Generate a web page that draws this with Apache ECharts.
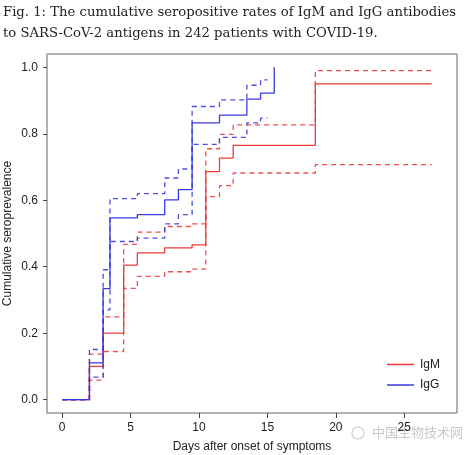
<!DOCTYPE html>
<html>
<head>
<meta charset="utf-8">
<script src="https://cdn.jsdelivr.net/npm/echarts@6/dist/echarts.min.js"></script>
<style>html,body{margin:0;padding:0;background:#fff}#c{width:464px;height:455px}</style>
</head>
<body>
<div id="c"></div>
<script>
// ---- data ----
const titleLines = ["Fig. 1: The cumulative seropositive rates of IgM and IgG antibodies",
                    "to SARS-CoV-2 antigens in 242 patients with COVID-19."];
const xTicks = [0, 5, 10, 15, 20, 25];
const yTicks = [0, 0.2, 0.4, 0.6, 0.8, 1.0];

const igmTime  = [0, 2, 3, 4.5, 5.5, 7.5, 9.5, 10.5, 11.5, 12.5, 18.5, 27];
const igmEst   = [0, 0.100, 0.200, 0.405, 0.442, 0.457, 0.466, 0.686, 0.727, 0.765, 0.950, 0.950];
const igmUpper = [0, 0.137, 0.249, 0.467, 0.504, 0.521, 0.529, 0.755, 0.798, 0.827, 0.990, 0.990];
const igmLower = [0, 0.059, 0.145, 0.335, 0.371, 0.385, 0.393, 0.611, 0.644, 0.682, 0.707, 0.707];

const iggTime   = [0, 2, 3, 3.5, 5.5, 7.5, 8.5, 9.5, 11.5, 13.5, 14.5, 15.5];
const iggEst    = [0, 0.111, 0.334, 0.547, 0.557, 0.601, 0.632, 0.833, 0.856, 0.904, 0.922, 1.0];
const iggCiTime = [0, 2, 3, 3.5, 5.5, 7.5, 8.5, 9.5, 11.5, 13.5, 14.5, 15];
const iggUpper  = [0, 0.151, 0.391, 0.605, 0.620, 0.667, 0.694, 0.882, 0.902, 0.946, 0.962, 0.962];
const iggLower  = [0, 0.068, 0.270, 0.476, 0.486, 0.529, 0.557, 0.768, 0.789, 0.833, 0.847, 0.847];

const watermark = "中国生物技术网";

// ---- chart ----
const RED = '#ee3b3b', BLUE = '#3a3ae0';
const pts = (t, v) => t.map((x, i) => [x, v[i]]);
const mk = (name, t, v, color, dashed) => ({
  name, type: 'line', step: 'end', symbol: 'none', showSymbol: false, silent: true, animation: false,
  data: pts(t, v),
  lineStyle: { color, width: 1.3, type: dashed ? [5, 4] : 'solid', opacity: dashed ? 0.9 : 1 },
  itemStyle: { color }
});

const chart = echarts.init(document.getElementById('c'), null, { renderer: 'canvas' });
chart.setOption({
  animation: false,
  backgroundColor: '#fff',
  title: {
    text: titleLines.join('\n'), left: 3, top: 2, padding: 0,
    textStyle: { fontFamily: 'DejaVu Serif', fontSize: 13.2, fontWeight: 'normal', color: '#222', lineHeight: 21 }
  },
  grid: { left: 47, right: 7, top: 54, bottom: 42, show: true, borderColor: '#666', borderWidth: 1,
          containLabel: false, outerBoundsMode: 'none' },
  legend: {
    data: [{ name: 'IgM', icon: 'rect' }, { name: 'IgG', icon: 'rect' }],
    orient: 'vertical', left: 387, top: 358.5, padding: 0,
    itemWidth: 27, itemHeight: 1.5, itemGap: 8.5,
    textStyle: { fontFamily: 'Liberation Sans', fontSize: 12, color: '#222', padding: [0, 0, 0, 1] }
  },
  xAxis: {
    type: 'value', min: -1.1, max: 28.85,
    axisLine: { show: false, onZero: false },
    splitLine: { show: false },
    axisTick: { show: true, length: 5, customValues: xTicks, lineStyle: { color: '#444' } },
    axisLabel: { customValues: xTicks, margin: 9, fontFamily: 'Liberation Sans', fontSize: 12, color: '#222' },
    name: 'Days after onset of symptoms', nameLocation: 'middle', nameGap: 28, nameMoveOverlap: false,
    nameTextStyle: { fontFamily: 'Liberation Sans', fontSize: 12, color: '#222' }
  },
  yAxis: {
    type: 'value', min: -0.04, max: 1.04,
    axisLine: { show: true, onZero: false, lineStyle: { color: '#b0b0b0', width: 2 } },
    splitLine: { show: false },
    axisTick: { show: true, length: 4, customValues: yTicks, lineStyle: { color: '#444' } },
    axisLabel: { customValues: yTicks, margin: 9, fontFamily: 'Liberation Sans', fontSize: 12, color: '#222',
                 formatter: v => v.toFixed(1) },
    name: 'Cumulative seroprevalence', nameLocation: 'middle', nameGap: 33, nameMoveOverlap: false,
    nameTextStyle: { fontFamily: 'Liberation Sans', fontSize: 12, color: '#222' }
  },
  graphic: [
    { type: 'circle', shape: { cx: 358, cy: 433, r: 6 }, style: { fill: 'none', stroke: '#cfcfcf', lineWidth: 1.2 } },
    { type: 'text', left: 372, top: 426, style: { text: watermark, fill: '#c8c8c8',
      font: '13px "Noto Sans CJK SC"' } }
  ],
  series: [
    mk('IgM upper', igmTime, igmUpper, RED, true),
    mk('IgM lower', igmTime, igmLower, RED, true),
    mk('IgM', igmTime, igmEst, RED, false),
    mk('IgG upper', iggCiTime, iggUpper, BLUE, true),
    mk('IgG lower', iggCiTime, iggLower, BLUE, true),
    mk('IgG', iggTime, iggEst, BLUE, false)
  ]
});
</script>
</body>
</html>
